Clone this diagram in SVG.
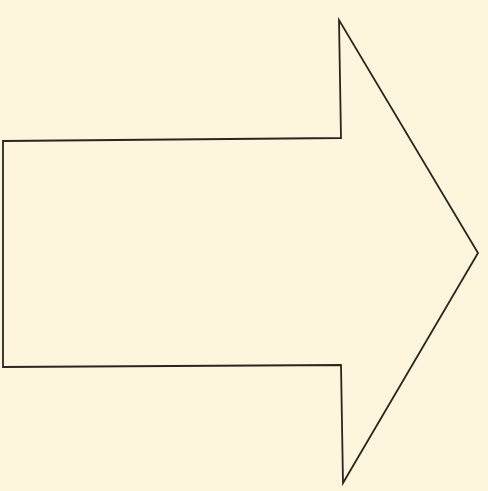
<svg xmlns="http://www.w3.org/2000/svg" width="488" height="491" viewBox="0 0 488 491">
<style>.arrow{fill:none;stroke:#2b2520;stroke-width:1.8;stroke-linejoin:miter}</style>
<rect width="488" height="491" fill="#fdf6dc"/>
<g id="arrow">
<polygon class="arrow" points="3,141 341,138 339,20 478,253 343,483 341,365 3,367"/>
</g>
</svg>
